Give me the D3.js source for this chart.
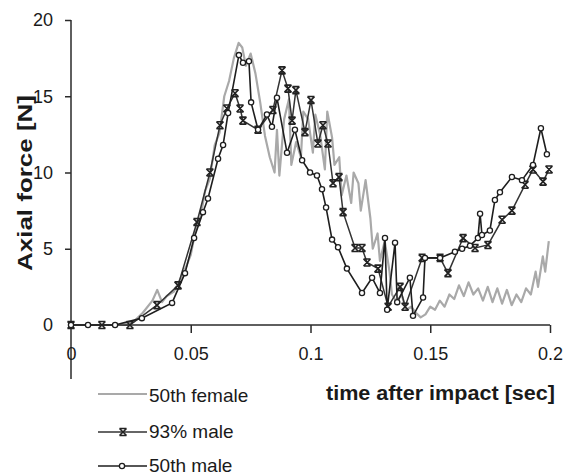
<!DOCTYPE html>
<html>
<head>
<meta charset="utf-8">
<script src="https://cdn.jsdelivr.net/npm/d3@7"></script>
<style>
html,body{margin:0;padding:0;background:#fff;}
svg{display:block;}
text{font-family:"Liberation Sans",Arial,sans-serif;fill:#1a1a1a;}
</style>
</head>
<body>
<svg id="chart" width="568" height="475"></svg>
<script>
// ---- data (time [s], axial force [N]) ----
const seriesNames = ["50th female", "93% male", "50th male"];
const xTicks = [0, 0.05, 0.1, 0.15, 0.2];
const xTickLabels = ["0", "0.05", "0.1", "0.15", "0.2"];
const yTicks = [0, 5, 10, 15, 20];
const yTickLabels = ["0", "5", "10", "15", "20"];

const female50 = [
  [0,0],[0.02,0],[0.026,0.2],[0.030,0.8],[0.034,1.6],[0.036,2.3],[0.038,1.5],[0.040,1.9],
  [0.043,2.2],[0.045,2.8],[0.048,3.8],[0.050,4.6],[0.052,6.2],[0.054,7.0],[0.056,8.8],
  [0.058,9.6],[0.060,11.8],[0.062,12.6],[0.064,15.0],[0.066,16.0],[0.068,17.5],[0.070,18.5],
  [0.0715,18.2],[0.073,17.0],[0.075,17.8],[0.077,16.5],[0.079,14.6],[0.081,12.4],[0.083,11.0],
  [0.085,10.0],[0.086,12.8],[0.087,9.8],[0.089,13.5],[0.091,14.8],[0.092,10.5],[0.094,12.0],
  [0.096,11.0],[0.097,14.0],[0.099,13.5],[0.101,11.3],[0.102,13.8],[0.104,12.5],[0.106,10.2],
  [0.107,14.0],[0.109,12.3],[0.110,10.5],[0.112,11.0],[0.113,8.5],[0.115,9.8],[0.117,8.0],
  [0.118,10.0],[0.120,9.3],[0.121,7.5],[0.123,9.5],[0.125,7.0],[0.126,5.0],[0.128,6.0],
  [0.129,4.2],[0.131,5.5],[0.133,3.5],[0.134,2.0],[0.136,1.5],[0.138,2.0],[0.140,1.0],
  [0.142,1.2],[0.144,0.8],[0.146,0.5],[0.148,0.7],[0.150,1.2],[0.152,1.0],[0.154,1.6],
  [0.156,1.2],[0.158,2.0],[0.160,1.7],[0.162,2.6],[0.164,1.9],[0.166,2.8],[0.168,2.0],
  [0.170,2.4],[0.172,1.6],[0.174,2.5],[0.176,1.5],[0.178,2.4],[0.180,1.4],[0.182,2.3],
  [0.184,1.3],[0.186,2.0],[0.188,1.5],[0.190,2.4],[0.192,2.0],[0.194,3.5],[0.195,2.5],
  [0.197,4.5],[0.198,3.5],[0.1995,5.5]
];

const male93 = [
  [0,0],[0.0129,0],[0.0246,0],[0.0359,1.3],[0.0447,2.6],[0.0526,6.75],[0.0580,10.0],
  [0.0622,13.1],[0.0651,14.2],[0.0685,15.2],[0.0706,14.2],[0.0718,13.4],[0.0781,12.8],
  [0.0843,14.1],[0.0881,16.7],[0.0906,15.5],[0.0923,13.4],[0.0939,15.4],[0.0977,12.65],
  [0.1002,14.75],[0.1031,11.9],[0.1052,13.1],[0.1073,11.9],[0.1094,9.3],[0.1119,9.7],
  [0.1136,7.4],[0.1186,5.05],[0.1215,5.05],[0.1236,4.1],[0.1282,3.7],[0.1324,1.2],
  [0.1374,2.5],[0.1395,1.2],[0.1466,4.4],[0.1541,4.4],[0.1574,3.4],[0.1637,5.7],
  [0.1687,5.05],[0.1741,5.25],[0.1800,6.9],[0.1841,7.5],[0.1896,9.2],[0.1929,10.2],
  [0.1971,9.4],[0.1996,10.2]
];

const male50 = [
  [0,0],[0.0071,0],[0.0184,0],[0.0296,0.45],[0.0422,1.45],[0.0476,3.4],[0.0514,5.7],
  [0.0551,7.4],[0.0572,8.3],[0.0614,10.9],[0.0635,11.8],[0.0656,13.9],[0.0701,17.7],
  [0.0718,17.2],[0.0743,17.3],[0.0752,14.6],[0.0781,12.8],[0.0818,13.8],[0.0839,13.0],
  [0.0860,14.9],[0.0902,11.3],[0.0935,12.8],[0.0965,10.8],[0.0998,10.0],[0.1027,9.8],
  [0.1048,8.9],[0.1065,7.7],[0.1090,5.6],[0.1115,5.1],[0.1152,3.7],[0.1215,2.1],
  [0.1257,3.1],[0.1290,2.1],[0.1311,5.7],[0.1320,1.0],[0.1353,5.4],[0.1362,1.5],
  [0.1415,3.1],[0.1428,0.6],[0.1470,1.8],[0.1478,4.4],[0.1541,4.4],[0.1603,4.8],
  [0.1633,5.0],[0.1666,5.2],[0.1699,5.7],[0.1708,7.3],[0.1716,5.9],[0.1749,6.2],
  [0.1770,8.2],[0.1791,8.7],[0.1841,9.7],[0.1883,9.5],[0.1929,10.5],[0.1962,12.9],
  [0.1987,11.2]
];

// ---- layout ----
const svg = d3.select("#chart");
const x = d3.scaleLinear().domain([0, 0.2]).range([71, 550]);
const y = d3.scaleLinear().domain([0, 20]).range([325, 20]);
const axisColor = "#2a2a2a";
const fontSize = 18;

// y axis
const yAxis = svg.append("g").attr("transform", `translate(${x(0)},0)`)
  .call(d3.axisLeft(y).tickValues(yTicks).tickFormat((d, i) => yTickLabels[i]).tickSize(6).tickPadding(12));
yAxis.select(".domain").remove();
yAxis.selectAll("line").attr("stroke", axisColor).attr("stroke-width", 1.5);
yAxis.selectAll("text").attr("font-size", fontSize).attr("font-family", '"Liberation Sans",Arial,sans-serif').attr("fill", "#1a1a1a");
yAxis.selectAll(".tick").filter(d => d === 0).select("line").remove();
svg.append("line").attr("x1", x(0)).attr("x2", x(0)).attr("y1", y(20)).attr("y2", 379)
  .attr("stroke", axisColor).attr("stroke-width", 1.5);

// x axis
const xAxis = svg.append("g").attr("transform", `translate(0,${y(0)})`)
  .call(d3.axisBottom(x).tickValues(xTicks).tickFormat((d, i) => xTickLabels[i]).tickSize(8).tickPadding(14));
xAxis.select(".domain").attr("stroke", axisColor).attr("stroke-width", 1.5).attr("d", `M${x(0)},0H${x(0.2)}`);
xAxis.selectAll("line").attr("stroke", axisColor).attr("stroke-width", 1.5);
xAxis.selectAll("text").attr("font-size", fontSize).attr("font-family", '"Liberation Sans",Arial,sans-serif').attr("fill", "#1a1a1a");
xAxis.selectAll(".tick").filter(d => d === 0).select("line").remove();

// axis titles
svg.append("text").attr("transform", `translate(32,${183}) rotate(-90)`)
  .attr("text-anchor", "middle").attr("font-weight", "bold").attr("font-size", 20)
  .attr("textLength", 176).attr("lengthAdjust", "spacingAndGlyphs")
  .text("Axial force [N]");
svg.append("text").attr("x", 326).attr("y", 400)
  .attr("font-weight", "bold").attr("font-size", 20)
  .attr("textLength", 229).attr("lengthAdjust", "spacingAndGlyphs")
  .text("time after impact [sec]");

// lines
const line = d3.line().x(d => x(d[0])).y(d => y(d[1]));
const grayColor = "#a9a9a9";
const darkColor = "#1e1e1e";

svg.append("path").datum(female50).attr("d", line)
  .attr("fill", "none").attr("stroke", grayColor).attr("stroke-width", 2.2).attr("stroke-linejoin", "round");
svg.append("path").datum(male93).attr("d", line)
  .attr("fill", "none").attr("stroke", "#333").attr("stroke-width", 1.5);
svg.append("path").datum(male50).attr("d", line)
  .attr("fill", "none").attr("stroke", darkColor).attr("stroke-width", 1.6);

const starPath = "M-3.5,-3.5L3.5,3.5M-3.5,3.5L3.5,-3.5M-3.5,-3.5H3.5M-3.5,3.5H3.5";

svg.append("g").selectAll("path").data(male93).join("path")
  .attr("transform", d => `translate(${x(d[0])},${y(d[1])})`)
  .attr("d", starPath).attr("fill", "none").attr("stroke", "#222").attr("stroke-width", 1.6);
svg.append("g").selectAll("circle").data(male50).join("circle")
  .attr("cx", d => x(d[0])).attr("cy", d => y(d[1])).attr("r", 2.6)
  .attr("fill", "#fff").attr("stroke", darkColor).attr("stroke-width", 1.3);

// legend
const legendRows = [
  {name: seriesNames[0], ly: 394, ty: 402, kind: "gray"},
  {name: seriesNames[1], ly: 432, ty: 438, kind: "star"},
  {name: seriesNames[2], ly: 466, ty: 472, kind: "circle"}
];
const lg = svg.append("g");
legendRows.forEach(r => {
  lg.append("line").attr("x1", 98).attr("x2", 147).attr("y1", r.ly).attr("y2", r.ly)
    .attr("stroke", r.kind === "gray" ? grayColor : (r.kind === "star" ? "#333" : darkColor))
    .attr("stroke-width", r.kind === "gray" ? 2 : 1.6);
  if (r.kind === "star") {
    lg.append("path").attr("transform", `translate(123,${r.ly})`).attr("d", starPath)
      .attr("fill", "none").attr("stroke", "#222").attr("stroke-width", 1.6);
  }
  if (r.kind === "circle") {
    lg.append("circle").attr("cx", 122).attr("cy", r.ly).attr("r", 2.6)
      .attr("fill", "#fff").attr("stroke", darkColor).attr("stroke-width", 1.3);
  }
  lg.append("text").attr("x", 149).attr("y", r.ty).attr("font-size", 19).text(r.name);
});
</script>
</body>
</html>
